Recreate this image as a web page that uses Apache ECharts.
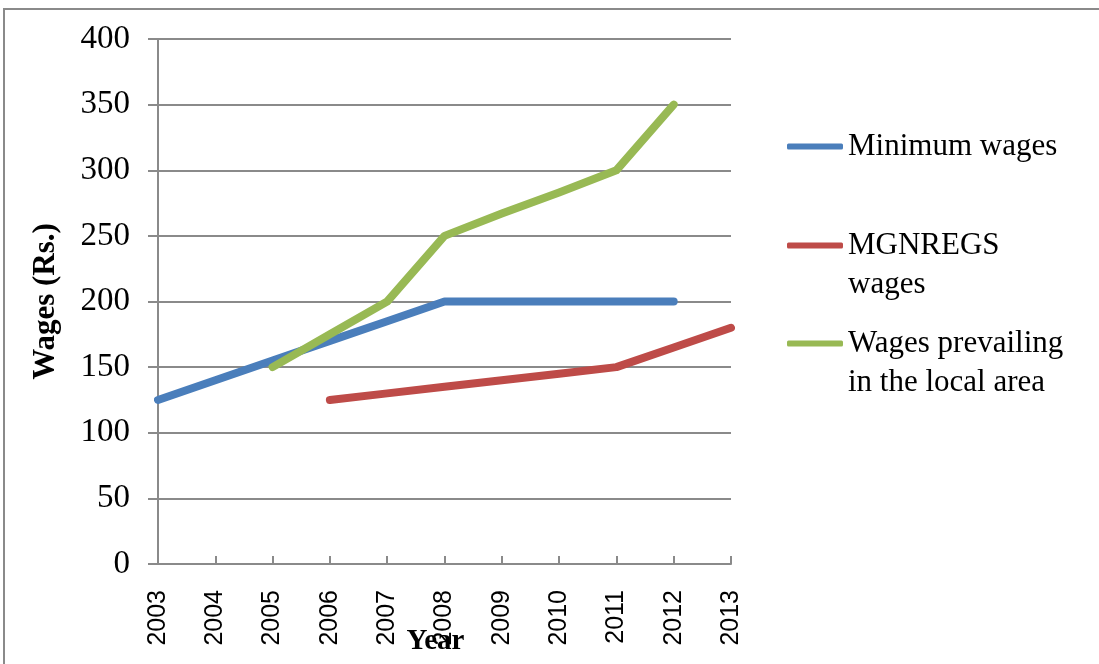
<!DOCTYPE html>
<html>
<head>
<meta charset="utf-8">
<script src="https://cdn.jsdelivr.net/npm/echarts@6/dist/echarts.min.js"></script>
<style>
  body { margin: 0; overflow: hidden; background: #fff; }
  #chart { width: 1099px; height: 664px; }
  .frame {
    position: absolute; left: 3px; top: 8px; width: 1200px; height: 800px;
    border: 2px solid #8a8a8a; pointer-events: none;
  }
</style>
</head>
<body>
<div id="chart"></div>
<div class="frame"></div>
<script>
const years = ['2003', '2004', '2005', '2006', '2007', '2008', '2009', '2010', '2011', '2012', '2013']
const minimumWages = [125, 140, 155, 170, 185, 200, 200, 200, 200, 200, null]
const mgnregsWages = [null, null, null, 125, 130, 135, 140, 145, 150, 165, 180]
const localWages = [null, null, 150, 175, 200, 250, 267, 283, 300, 350, null]

const serif = '"Liberation Serif", "Times New Roman", serif'
const sans = '"Liberation Sans", Arial, sans-serif'
const gray = '#8a8a8a'

let myChart = echarts.init(document.getElementById('chart'))

// one legend per item so each sits where the reference puts it
const legendBase = {
  left: 782,
  orient: 'vertical',
  icon: 'roundRect',
  itemWidth: 56,
  itemHeight: 6,
  selectedMode: false,
  textStyle: { fontFamily: serif, fontSize: 31, color: '#000', lineHeight: 39 }
}

let option = {
  animation: false,
  grid: { left: 158, right: 368, top: 39, bottom: 100, outerBoundsMode: 'none', containLabel: false },
  legend: [
    Object.assign({}, legendBase, { top: 122, data: ['Minimum wages'] }),
    Object.assign({}, legendBase, {
      top: 182,
      data: ['MGNREGS wages'],
      // leading blank line keeps the icon level with the first line
      formatter: () => '\nMGNREGS\nwages'
    }),
    Object.assign({}, legendBase, {
      top: 280,
      data: ['Wages prevailing in the local area'],
      formatter: () => '\nWages prevailing\nin the local area'
    })
  ],
  xAxis: {
    type: 'category',
    data: years,
    boundaryGap: false,
    name: 'Year',
    nameLocation: 'middle',
    nameGap: 63,
    nameMoveOverlap: false,
    nameTextStyle: { fontFamily: serif, fontSize: 29, fontWeight: 'bold', color: '#000', padding: [0, 18, 0, 0] },
    axisLine: { lineStyle: { color: gray, width: 2 } },
    axisTick: { inside: true, length: 8, lineStyle: { color: gray, width: 2 } },
    axisLabel: { rotate: 90, margin: 26, fontFamily: sans, fontSize: 25, color: '#000' },
    splitLine: { show: false }
  },
  yAxis: {
    type: 'value',
    min: 0,
    max: 400,
    interval: 50,
    name: 'Wages (Rs.)',
    nameLocation: 'middle',
    nameGap: 97,
    nameMoveOverlap: false,
    nameTextStyle: { fontFamily: serif, fontSize: 31, fontWeight: 'bold', color: '#000' },
    axisLine: { show: true, lineStyle: { color: gray, width: 2 } },
    axisTick: { show: true, length: 10, lineStyle: { color: gray, width: 2 } },
    axisLabel: { margin: 28, fontFamily: serif, fontSize: 33, color: '#000' },
    splitLine: { lineStyle: { color: gray, width: 2 } }
  },
  series: [
    {
      name: 'Minimum wages',
      type: 'line',
      data: minimumWages,
      color: '#4A7EBB',
      symbol: 'none',
      lineStyle: { width: 8, cap: 'round', join: 'round' }
    },
    {
      name: 'MGNREGS wages',
      type: 'line',
      data: mgnregsWages,
      color: '#BE4B48',
      symbol: 'none',
      lineStyle: { width: 8, cap: 'round', join: 'round' }
    },
    {
      name: 'Wages prevailing in the local area',
      type: 'line',
      data: localWages,
      color: '#98B954',
      symbol: 'none',
      lineStyle: { width: 8, cap: 'round', join: 'round' }
    }
  ]
}
myChart.setOption(option)
</script>
</body>
</html>
